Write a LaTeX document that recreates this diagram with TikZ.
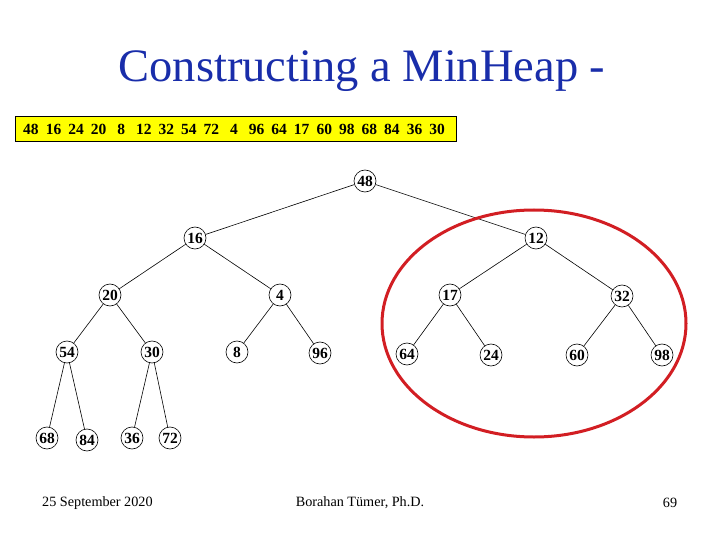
\documentclass[tikz,border=0pt]{standalone}
\usepackage{fontspec}
\setmainfont{Liberation Serif}
\definecolor{titleblue}{RGB}{25,45,170}
\definecolor{ringred}{RGB}{210,30,35}
\definecolor{arryellow}{RGB}{255,255,0}
\begin{document}
\begin{tikzpicture}[x=1pt,y=-1pt,
  hn/.style={circle,draw,line width=0.6pt,minimum size=22pt,inner sep=0pt,font=\fontsize{15.5}{15.5}\selectfont\bfseries},
  edge/.style={line width=0.6pt},
  arrnum/.style={inner sep=0pt,font=\fontsize{15.5}{15.5}\selectfont\bfseries},
  foot/.style={inner sep=0pt,font=\fontsize{14.2}{14.2}\selectfont}]
\useasboundingbox (0,0) rectangle (720,540);
\node[text=titleblue,font=\fontsize{46.5}{46.5}\selectfont,inner sep=0pt] (title) at (362,71) {Constructing a MinHeap -};
\node[draw,fill=arryellow,line width=0.6pt,minimum width=441pt,minimum height=25pt,inner sep=0pt] (arr) at (235.5,128.5) {};
\foreach \v [count=\i from 0] in {48,16,24,20,8,12,32,54,72,4,96,64,17,60,98,68,84,36,30}
  \node[arrnum] (a\i) at (31+22.56*\i,129) {\v};
% heap nodes
\node[hn] (n48) at (365,181) {48};
\node[hn] (n16) at (195,238) {16};
\node[hn] (n12) at (536,238) {12};
\node[hn] (n20) at (110,295) {20};
\node[hn] (n4) at (280,295) {4};
\node[hn] (n17) at (450,295) {17};
\node[hn] (n32) at (622,296) {32};
\node[hn] (n54) at (67,352) {54};
\node[hn] (n30) at (152,352) {30};
\node[hn] (n8) at (237,352) {8};
\node[hn] (n96) at (320,353) {96};
\node[hn] (n64) at (407,354) {64};
\node[hn] (n24) at (491,355) {24};
\node[hn] (n60) at (577,355) {60};
\node[hn] (n98) at (662,355) {98};
\node[hn] (n68) at (47,438) {68};
\node[hn] (n84) at (87,440) {84};
\node[hn] (n36) at (132,438) {36};
\node[hn] (n72) at (170,438) {72};
\foreach \a/\b in {n48/n16,n48/n12,n16/n20,n16/n4,n12/n17,n12/n32,n20/n54,n20/n30,n4/n8,n4/n96,n17/n64,n17/n24,n32/n60,n32/n98,n54/n68,n54/n84,n30/n36,n30/n72}
  \draw[edge] (\a) -- (\b);
\draw[ringred,line width=3pt] (534,323.5) ellipse [x radius=152, y radius=113.5];
\node[foot,anchor=west] (date) at (42,503) {25 September 2020};
\node[foot] (author) at (360,503) {Borahan Tümer, Ph.D.};
\node[foot] (page) at (670,503) {69};
\end{tikzpicture}
\end{document}
